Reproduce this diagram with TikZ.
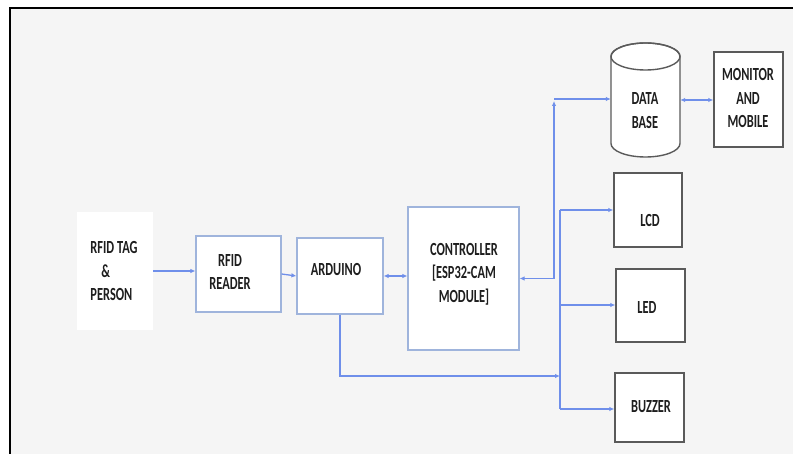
\documentclass[tikz,border=0pt]{standalone}
\usepackage{fontspec}
\newfontfamily\lblfont{Carlito}[FakeStretch=0.67]
\usetikzlibrary{arrows.meta}
\definecolor{bgc}{HTML}{F5F5F5}
\definecolor{bluebox}{HTML}{9FB4DC}
\definecolor{graybox}{HTML}{5A5A5A}
\definecolor{arrowc}{HTML}{6F8FEA}
\definecolor{txtc}{HTML}{1E1E1E}
\tikzset{
  lbl/.style={font=\lblfont\bfseries\fontsize{18.5}{23.5}\selectfont, text=txtc, align=center, inner sep=0pt},
  bbox/.style={draw=bluebox, line width=1.2pt, fill=white, inner sep=0pt},
  gbox/.style={draw=graybox, line width=1.4pt, fill=white, inner sep=0pt},
  conn/.style={draw=arrowc, line width=1.3pt},
  tip/.style={-{Latex[length=5pt,width=4.5pt]}},
  tips/.style={{Latex[length=5pt,width=4.5pt]}-{Latex[length=5pt,width=4.5pt]}},
}
\begin{document}
\begin{tikzpicture}[x=1pt,y=1pt]
\useasboundingbox (0,0) rectangle (793,-454);
\fill[white] (0,0) rectangle (793,-454);
\fill[bgc] (10,-8) rectangle (793,-454);
\draw[black, line width=2.6pt] (10,-454) -- (10,-8) -- (793,-8);

% nodes
\node[fill=white, inner sep=0pt, minimum width=76pt, minimum height=118pt] (tag) at (115,-271) {};
\node[lbl, align=left, anchor=center] (tagT) at (114,-271) {RFID TAG\\\hspace{11pt}\&\\PERSON};

\node[bbox, minimum width=85pt, minimum height=76pt] (reader) at (238.5,-274) {};
\node[lbl] (readerT) at (230,-272) {RFID\\READER};

\node[bbox, minimum width=86pt, minimum height=76pt] (arduino) at (340,-276) {};
\node[lbl] (arduinoT) at (336,-270) {ARDUINO};

\node[bbox, minimum width=111pt, minimum height=143pt] (ctrl) at (463.5,-278.5) {};
\node[lbl] (ctrlT) at (464,-274) {CONTROLLER\\{[}ESP32-CAM\\MODULE{]}};

% database cylinder
\node[inner sep=0pt, minimum width=69pt, minimum height=114pt] (db) at (645.5,-100) {};
\draw[graybox, line width=1.4pt, fill=white] (611,-56.5) -- (611,-143.5) arc (180:360:34.5 and 13.5) -- (680,-56.5) arc (0:180:34.5 and 13.5);
\draw[graybox, line width=1.4pt] (645.5,-56.5) ellipse (34.5 and 13.5);
\node[lbl] (dbT) at (645,-110.5) {DATA\\BASE};

\node[gbox, minimum width=69pt, minimum height=95pt] (mon) at (748.5,-99.5) {};
\node[lbl] (monT) at (748,-98) {MONITOR\\AND\\MOBILE};

\node[gbox, minimum width=68pt, minimum height=74pt] (lcd) at (648,-210) {};
\node[lbl] (lcdT) at (650,-220) {LCD};

\node[gbox, minimum width=69pt, minimum height=73pt] (led) at (650.5,-305.5) {};
\node[lbl] (ledT) at (647,-308) {LED};

\node[gbox, minimum width=69pt, minimum height=69pt] (buz) at (649.5,-407.5) {};
\node[lbl] (buzT) at (651,-407) {BUZZER};

% junction coordinates
\coordinate (upC) at (554,-101);
\coordinate (dbIn) at (554,-99);
\coordinate (busT) at (560,-210);
\coordinate (busLed) at (560,-305);
\coordinate (busB) at (560,-409);
\coordinate (ardIn) at (560,-376);

% connectors
\draw[conn, tip] (tag.east) -- (tag.east -| reader.west);
\draw[conn, tip] (reader.east) -- (arduino.west);
\draw[conn, tips] (arduino.east) -- (arduino.east -| ctrl.west);
\draw[conn, tips] (ctrl.east) -- (ctrl.east -| upC) -- (upC);
\draw[conn, tip] (dbIn) -- (dbIn -| db.west);
\draw[conn, tips] (db.east) -- (db.east -| mon.west);
\draw[conn] (busT) -- (busB);
\draw[conn, tip] (busT) -- (busT -| lcd.west);
\draw[conn, tip] (busLed) -- (busLed -| led.west);
\draw[conn, tip] (busB) -- (busB -| buz.west);
\draw[conn, tip] (arduino.south) -- (arduino.south |- ardIn) -- (ardIn);
\end{tikzpicture}
\end{document}
